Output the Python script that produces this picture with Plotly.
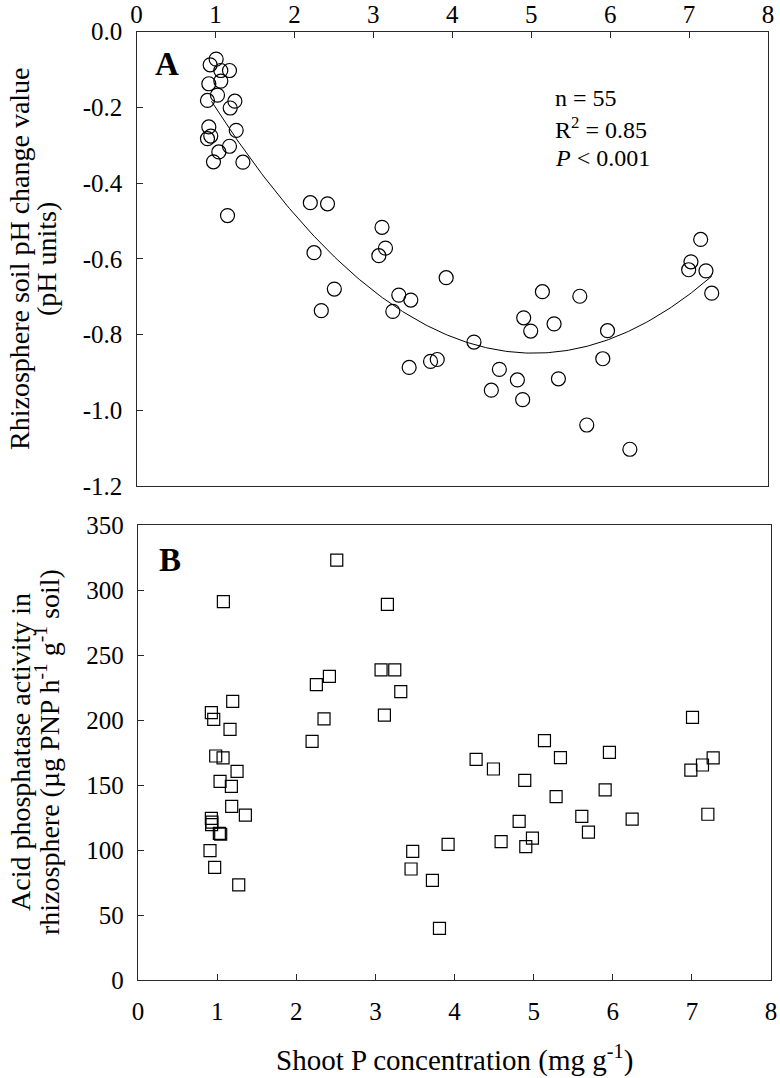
import numpy as np
import plotly.graph_objects as go

# Panel A: shoot P concentration (mg g-1) vs rhizosphere pH change
a_x = [1.009, 0.933, 1.068, 1.178, 1.068, 0.916, 1.026, 0.899, 1.246, 1.187,
       0.916, 1.263, 0.899, 0.941, 1.178, 1.043, 0.975, 1.348, 1.153,
       2.202, 2.420, 3.110, 3.154, 3.070, 2.249, 3.923, 2.506, 3.323, 3.475,
       2.341, 3.247, 4.275, 3.810, 3.725, 3.454,
       5.142, 5.616, 4.905, 5.290, 4.994, 5.967, 5.907, 4.597, 4.825, 5.345,
       4.495, 4.892, 5.704, 6.250,
       7.147, 7.024, 6.995, 7.214, 7.287]
a_y = [-0.073, -0.088, -0.103, -0.103, -0.131, -0.138, -0.168, -0.182, -0.184, -0.202,
       -0.252, -0.261, -0.283, -0.276, -0.303, -0.318, -0.344, -0.345, -0.486,
       -0.452, -0.455, -0.517, -0.572, -0.592, -0.584, -0.650, -0.680, -0.696, -0.709,
       -0.737, -0.739, -0.820, -0.866, -0.871, -0.887,
       -0.687, -0.699, -0.756, -0.772, -0.791, -0.790, -0.864, -0.892, -0.920, -0.917,
       -0.947, -0.972, -1.039, -1.103,
       -0.549, -0.608, -0.629, -0.632, -0.691]

# Panel B: shoot P concentration vs acid phosphatase activity
b_x = [2.512, 1.079, 3.152, 3.072, 3.245, 2.419, 2.254, 3.321, 1.197, 0.927,
       0.957, 2.351, 3.114, 1.163, 2.200, 0.982, 1.075, 1.252, 1.037, 1.180,
       1.184, 1.357, 0.927, 0.930, 0.935, 1.028, 1.045, 0.910, 0.969, 1.273,
       3.472, 3.919, 3.451, 3.721, 3.810,
       7.008, 5.137, 4.273, 5.339, 5.958, 4.492, 4.888, 5.284, 5.904, 7.269,
       7.134, 6.987, 7.202, 5.609, 6.245, 4.817, 5.693, 4.589, 4.985, 4.901]
b_y = [323.0, 291.0, 289.0, 238.5, 238.5, 233.6, 227.2, 221.8, 214.4, 205.6,
       200.5, 200.8, 203.8, 192.8, 183.5, 172.3, 170.8, 160.5, 152.8, 148.9,
       133.6, 126.9, 124.4, 119.5, 121.5, 112.8, 112.1, 99.5, 86.7, 73.1,
       99.0, 104.4, 85.4, 76.7, 39.7,
       202.0, 184.1, 169.7, 171.0, 175.1, 162.3, 153.6, 141.0, 146.2, 170.8,
       165.4, 161.5, 127.5, 125.9, 123.8, 122.0, 113.8, 106.4, 109.2, 102.6]

x_ticks = [0, 1, 2, 3, 4, 5, 6, 7, 8]
a_ticks = [0.0, -0.2, -0.4, -0.6, -0.8, -1.0, -1.2]
a_ticktext = ["0.0", "-0.2", "-0.4", "-0.6", "-0.8", "-1.0", "-1.2"]
b_ticks = [0, 50, 100, 150, 200, 250, 300, 350]

FONT = "Liberation Serif"
LINE = "#2a2a2a"

# quadratic fit for panel A
coef = np.polyfit(a_x, a_y, 2)
fx = np.linspace(min(a_x) + 0.05, max(a_x), 200)
fy = np.polyval(coef, fx)

fig = go.Figure()
fig.add_trace(go.Scatter(x=fx, y=fy, mode="lines", line=dict(color="black", width=1),
                         xaxis="x", yaxis="y", hoverinfo="skip"))
fig.add_trace(go.Scatter(x=a_x, y=a_y, mode="markers",
                         marker=dict(symbol="circle-open", size=14, color="black",
                                     line=dict(width=1.2, color="black")),
                         xaxis="x", yaxis="y"))
fig.add_trace(go.Scatter(x=b_x, y=b_y, mode="markers",
                         marker=dict(symbol="square-open", size=12, color="black",
                                     line=dict(width=1.2, color="black")),
                         xaxis="x2", yaxis="y2"))

W, H = 780, 1078
PL, PR, PT, PB = 136, 771, 31, 980          # plot block in reference pixels
L, R, T, B = PL, W - PR, PT, H - PB
PW = W - L - R
PH = H - T - B


def px(xp):
    return (xp - L) / PW


def py(yp):
    return (H - B - yp) / PH


def clamp(v):
    return max(0.0, min(1.0, v))


tickfont = dict(family=FONT, size=25, color="black")
common = dict(showgrid=False, zeroline=False, showline=True, mirror=True,
              linecolor=LINE, linewidth=1.3, ticks="inside", ticklen=6,
              tickcolor=LINE, tickwidth=1.2, tickfont=tickfont, automargin=False)

fig.update_layout(
    template="none",
    width=W, height=H,
    margin=dict(l=L, r=R, t=T, b=B, autoexpand=False),
    paper_bgcolor="white", plot_bgcolor="white",
    showlegend=False,
    xaxis=dict(common, domain=[clamp(px(136.5)), clamp(px(768))], range=[0, 8], tickvals=x_ticks,
               side="top", anchor="y", ticklabelstandoff=-3),
    yaxis=dict(common, domain=[clamp(py(486)), clamp(py(31.5))], range=[-1.2, 0], tickvals=a_ticks,
               ticktext=a_ticktext, anchor="x", ticklabelstandoff=8),
    xaxis2=dict(common, domain=[clamp(px(138)), clamp(px(771))], range=[0, 8], tickvals=x_ticks,
                side="bottom", anchor="y2", ticklabelstandoff=9),
    yaxis2=dict(common, domain=[clamp(py(980)), clamp(py(525))], range=[0, 350], tickvals=b_ticks,
                anchor="x2", ticklabelstandoff=8),
)

ann_font = dict(family=FONT, size=28, color="black")
anns = [
    dict(text="Rhizosphere soil pH change value", x=px(20), y=py(259), textangle=-90),
    dict(text="(pH units)", x=px(47), y=py(259), textangle=-90),
    dict(text="Acid phosphatase activity in", x=px(20), y=py(752), textangle=-90),
    dict(text="rhizosphere (µg PNP h<sup>-1</sup> g<sup>-1</sup> soil)", x=px(47), y=py(752), textangle=-90),
    dict(text="Shoot P concentration (mg g<sup>-1</sup>)", x=px(454), y=py(1058), font=dict(family=FONT, size=29, color="black")),
]
for a in anns:
    a.setdefault("font", ann_font)
    fig.add_annotation(xref="paper", yref="paper", showarrow=False,
                       xanchor="center", yanchor="middle", **a)

stat_font = dict(family=FONT, size=24, color="black")
for txt, yy in [("n = 55", 98.3), ("R<sup>2</sup> = 0.85", 128), ("<i>P</i> < 0.001", 158.3)]:
    fig.add_annotation(xref="paper", yref="paper", showarrow=False, x=px(553), y=py(yy),
                       xanchor="left", yanchor="middle", text=txt, font=stat_font)

for txt, xx, yy in [("<b>A</b>", 166.7, 63.7), ("<b>B</b>", 170, 559.5)]:
    fig.add_annotation(xref="paper", yref="paper", showarrow=False, x=px(xx), y=py(yy),
                       xanchor="center", yanchor="middle", text=txt,
                       font=dict(family=FONT, size=33, color="black"))

fig.write_html("out.html", config={"displayModeBar": False},
               post_script="document.body.style.margin='0px';document.body.style.overflow='hidden';")
